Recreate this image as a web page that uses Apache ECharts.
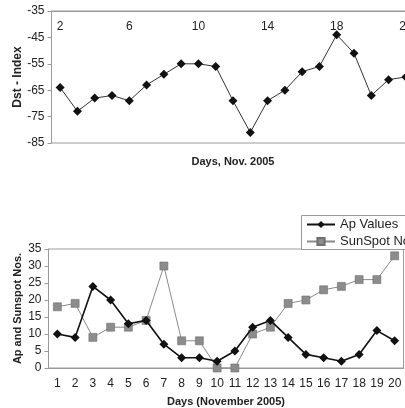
<!DOCTYPE html>
<html><head><meta charset="utf-8">
<script src="https://cdn.jsdelivr.net/npm/echarts@6/dist/echarts.min.js"></script>
<style>html,body{margin:0;padding:0;background:#fff}#c{width:405px;height:408px}</style>
</head><body><div id="c"></div>
<script>
const dstDays = ['2','3','4','5','6','7','8','9','10','11','12','13','14','15','16','17','18','19','20','21','22'];
const dstValues = [-64,-73,-68,-67,-69,-63,-59,-55,-55,-56,-69,-81,-69,-65,-58,-56,-44,-51,-67,-61,-60];
const days = ['1','2','3','4','5','6','7','8','9','10','11','12','13','14','15','16','17','18','19','20'];
const apValues = [10,9,24,20,13,14,7,3,3,2,5,12,14,9,4,3,2,4,11,8];
const sunspotValues = [18,19,9,12,12,14,30,8,8,0,0,10,12,19,20,23,24,26,26,33];

const font = 'Liberation Sans, Arial, sans-serif';
const axisCol = '#9a9a9a';
const txt = '#222';
const chart = echarts.init(document.getElementById('c'));
chart.setOption({
  animation: false,
  backgroundColor: '#fff',
  textStyle: {fontFamily: font},
  grid: [
    {left: 51.5, top: 11, height: 132, width: 363, outerBoundsMode: 'none', containLabel: false, show: true, borderColor: axisCol, borderWidth: 1, backgroundColor: 'transparent'},
    {left: 48.5, top: 249, height: 119, width: 355, outerBoundsMode: 'none', containLabel: false, show: true, borderColor: axisCol, borderWidth: 1, backgroundColor: 'transparent'}
  ],
  graphic: [
    {type: 'rect', left: 301, top: 215, z: 5, shape: {width: 160, height: 34},
     style: {fill: '#fff', stroke: '#999', lineWidth: 1}}
  ],
  legend: {
    orient: 'vertical', left: 301, top: 216, z: 10,
    itemWidth: 28, itemHeight: 9, itemGap: 4,
    padding: [2, 5, 2, 5],
    textStyle: {fontFamily: font, fontSize: 13, color: txt},
    data: ['Ap Values', 'SunSpot Nos.']
  },
  xAxis: [
    {gridIndex: 0, type: 'category', data: dstDays, position: 'top',
     name: 'Days, Nov. 2005', nameLocation: 'middle', nameGap: -156, nameMoveOverlap: false,
     nameTextStyle: {fontFamily: font, fontWeight: 'bold', fontSize: 11, color: txt},
     axisLine: {lineStyle: {color: axisCol}},
     axisTick: {inside: true, length: 3, interval: 0, lineStyle: {color: axisCol}},
     axisLabel: {inside: true, interval: 3, margin: 10, fontSize: 12, color: txt, fontFamily: font},
     splitLine: {show: false}},
    {gridIndex: 1, type: 'category', data: days,
     name: 'Days (November 2005)', nameLocation: 'middle', nameGap: 28, nameMoveOverlap: false,
     nameTextStyle: {fontFamily: font, fontWeight: 'bold', fontSize: 11, color: txt},
     axisLine: {lineStyle: {color: axisCol}},
     axisTick: {length: 3, interval: 0, lineStyle: {color: axisCol}},
     axisLabel: {interval: 0, margin: 10, fontSize: 12, color: txt, fontFamily: font},
     splitLine: {show: false}}
  ],
  yAxis: [
    {gridIndex: 0, type: 'value', min: -85, max: -35, interval: 10,
     name: 'Dst - Index', nameLocation: 'middle', nameGap: 28, nameMoveOverlap: false,
     nameTextStyle: {fontFamily: font, fontWeight: 'bold', fontSize: 12, color: txt},
     axisLine: {show: true, lineStyle: {color: axisCol}},
     axisTick: {show: true, length: 4, lineStyle: {color: axisCol}},
     axisLabel: {margin: 7, fontSize: 12, color: txt, fontFamily: font},
     splitLine: {show: false}},
    {gridIndex: 1, type: 'value', min: 0, max: 35, interval: 5,
     name: 'Ap and Sunspot Nos.', nameLocation: 'middle', nameGap: 25, nameMoveOverlap: false,
     nameTextStyle: {fontFamily: font, fontWeight: 'bold', fontSize: 11, color: txt},
     axisLine: {show: true, lineStyle: {color: axisCol}},
     axisTick: {show: true, length: 4, lineStyle: {color: axisCol}},
     axisLabel: {margin: 7, fontSize: 12, color: txt, fontFamily: font},
     splitLine: {show: false}}
  ],
  series: [
    {name: 'Dst', type: 'line', xAxisIndex: 0, yAxisIndex: 0, data: dstValues,
     symbol: 'diamond', symbolSize: 9, lineStyle: {color: '#333', width: 1},
     itemStyle: {color: '#111'}},
    {name: 'Ap Values', type: 'line', xAxisIndex: 1, yAxisIndex: 1, data: apValues,
     symbol: 'diamond', symbolSize: 9, z: 3, lineStyle: {color: '#111', width: 1.6},
     itemStyle: {color: '#111'}},
    {name: 'SunSpot Nos.', type: 'line', xAxisIndex: 1, yAxisIndex: 1, data: sunspotValues,
     symbol: 'rect', symbolSize: 8, z: 2, lineStyle: {color: '#8a8a8a', width: 1},
     itemStyle: {color: '#8c8c8c', borderColor: '#6e6e6e', borderWidth: 0.6}}
  ]
});
</script></body></html>
